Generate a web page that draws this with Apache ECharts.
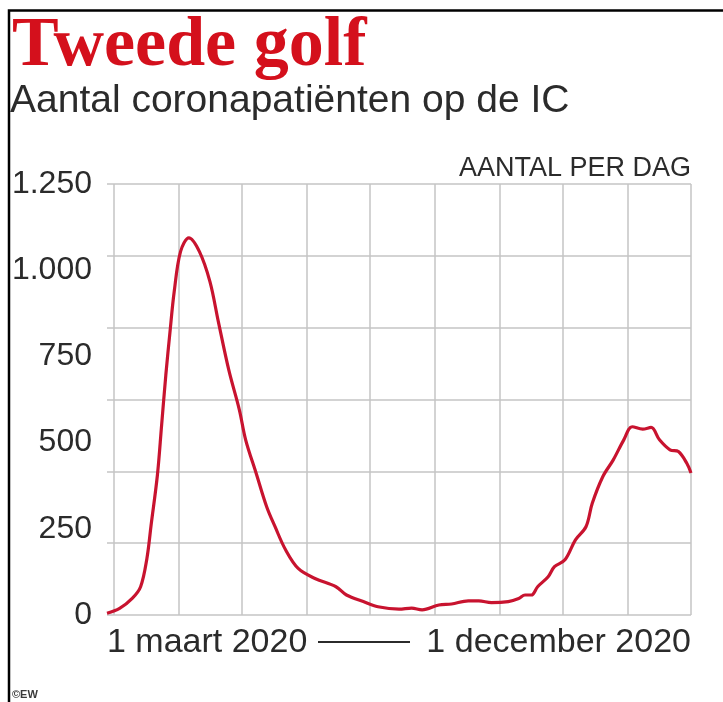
<!DOCTYPE html>
<html>
<head>
<meta charset="utf-8">
<script src="https://cdn.jsdelivr.net/npm/echarts@6/dist/echarts.min.js"></script>
<style>
html,body{margin:0;padding:0;background:#fff;}
#chart{width:723px;height:702px;}
</style>
</head>
<body>
<div id="chart"></div>
<script>
var dates = [
  '2020-02-27','2020-03-04','2020-03-10','2020-03-14','2020-03-17','2020-03-19','2020-03-22','2020-03-24',
  '2020-03-26','2020-03-28','2020-03-30','2020-04-02','2020-04-06','2020-04-11','2020-04-16','2020-04-20',
  '2020-04-25','2020-04-30','2020-05-03','2020-05-08','2020-05-13','2020-05-17','2020-05-22','2020-05-28',
  '2020-06-05','2020-06-15','2020-06-20','2020-06-28','2020-07-05','2020-07-15','2020-07-21','2020-07-26',
  '2020-08-03','2020-08-09','2020-08-17','2020-08-22','2020-08-28','2020-09-05','2020-09-10','2020-09-13',
  '2020-09-16','2020-09-19','2020-09-24','2020-09-27','2020-10-02','2020-10-07','2020-10-12','2020-10-15',
  '2020-10-20','2020-10-25','2020-10-30','2020-11-03','2020-11-08','2020-11-12','2020-11-16','2020-11-21',
  '2020-11-25','2020-11-29','2020-12-01'
];
// IC patients per day
var icPatients = [
  5, 19, 48, 82, 164, 261, 406, 551,
  696, 822, 938, 1054, 1094, 1054, 967, 851,
  710, 595, 508, 411, 314, 256, 189, 135,
  106, 82, 58, 39, 24, 17, 20, 15,
  29, 32, 41, 41, 36, 39, 48, 58,
  58, 82, 111, 140, 160, 218, 256, 324,
  401, 450, 508, 546, 539, 544, 508, 479,
  474, 440, 412
];
// Month starts used for the vertical grid lines
var monthStarts = ['2020-03-01','2020-04-01','2020-05-01','2020-06-01','2020-07-01',
                   '2020-08-01','2020-09-01','2020-10-01','2020-11-01','2020-12-01'];
// Y tick labels
var yTickLabels = ['0','250','500','750','1.000','1.250'];
var xStartLabel = '1 maart 2020';
var xEndLabel = '1 december 2020';

var chart = echarts.init(document.getElementById('chart'));
var gridColor = '#c4c4c4';
var textColor = '#2b2b2b';
var sans = '"Liberation Sans", Arial, sans-serif';

chart.setOption({
  animation: false,
  backgroundColor: '#ffffff',
  grid: { left: 107, right: 32, top: 184, bottom: 87, containLabel: false },
  xAxis: {
    type: 'time',
    min: '2020-02-27',
    max: '2020-12-01',
    axisLine: { show: false },
    axisTick: { show: false },
    axisLabel: { show: false },
    splitLine: { show: false }
  },
  yAxis: [
    {
      type: 'value',
      min: 0, max: 1250, interval: 250,
      axisLine: { show: false },
      axisTick: { show: false },
      splitLine: { show: false },
      axisLabel: {
        margin: 15,
        color: textColor,
        fontFamily: sans,
        fontSize: 32,
        formatter: function (v) { return yTickLabels[Math.round(v / 250)]; }
      }
    },
    {
      type: 'value',
      min: 0, max: 6, interval: 1,
      position: 'left',
      axisLine: { show: false },
      axisTick: { show: false },
      axisLabel: { show: false },
      splitLine: { show: true, lineStyle: { color: gridColor, width: 1.5 } }
    }
  ],
  series: [
    {
      type: 'line',
      yAxisIndex: 0,
      data: dates.map(function (d, i) { return [d, icPatients[i]]; }),
      showSymbol: false,
      smooth: 0.35,
      lineStyle: { color: '#c8132f', width: 3.2 },
      z: 5,
      markLine: {
        silent: true,
        symbol: ['none', 'none'],
        label: { show: false },
        lineStyle: { color: gridColor, width: 1.5, type: 'solid' },
        data: monthStarts.map(function (m) { return { xAxis: m }; }),
        z: 1
      }
    }
  ],
  graphic: [
    {
      type: 'polyline',
      shape: { points: [[9, 702], [9, 10.5], [723, 10.5]] },
      style: { stroke: '#000', lineWidth: 2.5, fill: null }
    },
    {
      type: 'text', left: 12, top: 12,
      style: { text: 'Tweede golf', fill: '#d4101c', font: 'bold 70px "Liberation Serif", "Times New Roman", serif' }
    },
    {
      type: 'text', left: 10, top: 82,
      style: { text: 'Aantal coronapatiënten op de IC', fill: textColor, font: '39px ' + sans }
    },
    {
      type: 'text', right: 32, top: 155,
      style: { text: 'AANTAL PER DAG', fill: textColor, font: '27px ' + sans, textAlign: 'right' }
    },
    {
      type: 'text', left: 107, top: 626,
      style: { text: xStartLabel, fill: textColor, font: '34px ' + sans }
    },
    {
      type: 'line',
      shape: { x1: 318, y1: 642, x2: 410, y2: 642 },
      style: { stroke: textColor, lineWidth: 2 }
    },
    {
      type: 'text', right: 32, top: 626,
      style: { text: xEndLabel, fill: textColor, font: '34px ' + sans, textAlign: 'right' }
    },
    {
      type: 'text', left: 12, top: 689,
      style: { text: '©EW', fill: '#3a3a3a', font: 'bold 11px ' + sans }
    }
  ]
});
</script>
</body>
</html>
